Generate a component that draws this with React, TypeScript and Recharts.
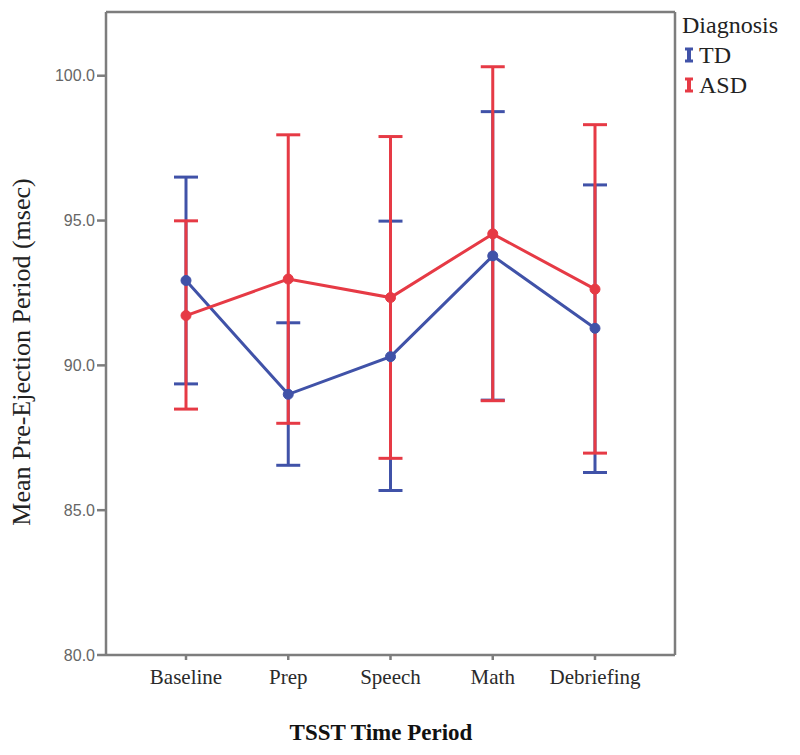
import React from "react";
import { ComposedChart, Line, XAxis, YAxis, ErrorBar, Legend } from "recharts";

const categories = ["Baseline", "Prep", "Speech", "Math", "Debriefing"];

// TD group: means and 95% CI bounds
const tdMean = [92.93, 89.0, 90.3, 93.78, 91.28];
const tdLower = [89.36, 86.55, 85.68, 88.8, 86.3];
const tdUpper = [96.5, 91.47, 94.98, 98.76, 96.23];

// ASD group
const asdMean = [91.72, 92.98, 92.34, 94.54, 92.63];
const asdLower = [88.49, 88.0, 86.79, 88.78, 86.97];
const asdUpper = [94.99, 97.96, 97.9, 100.31, 98.31];

const groups = ["TD", "ASD"];
const yTicks = [80, 85, 90, 95, 100];

const BLUE = "#4052a8";
const RED = "#e63a45";
const AXIS = "#7d7d7d";
const SERIF = "'Liberation Serif', 'Times New Roman', serif";

const data = categories.map((name, i) => ({
  name,
  td: tdMean[i],
  tdErr: [tdMean[i] - tdLower[i], tdUpper[i] - tdMean[i]],
  asd: asdMean[i],
  asdErr: [asdMean[i] - asdLower[i], asdUpper[i] - asdMean[i]],
}));

function DiagnosisLegend(props: any) {
  const payload = [...(props.payload || [])].sort(
    (a: any, b: any) => groups.indexOf(a.value) - groups.indexOf(b.value)
  );
  return (
    <div style={{ fontFamily: SERIF, color: "#222", fontSize: 24, lineHeight: "30px" }}>
      <div>Diagnosis</div>
      {payload.map((p: any) => (
        <div key={p.value} style={{ display: "flex", alignItems: "center" }}>
          <svg width={14} height={18} style={{ marginRight: 3 }}>
            <line x1={3} y1={3} x2={11} y2={3} stroke={p.color} strokeWidth={3} />
            <line x1={7} y1={3} x2={7} y2={15} stroke={p.color} strokeWidth={4} />
            <line x1={3} y1={15} x2={11} y2={15} stroke={p.color} strokeWidth={3} />
          </svg>
          <span>{p.value}</span>
        </div>
      ))}
    </div>
  );
}

export default function App() {
  return (
    <div style={{ position: "absolute", left: 0, top: 0, background: "#fff" }}>
      <ComposedChart
        width={800}
        height={755}
        data={data}
        margin={{ top: 11, right: 124, bottom: 60, left: 0 }}
      >
        <XAxis
          dataKey="name"
          padding={{ left: 80, right: 80 }}
          height={40}
          stroke={AXIS}
          strokeWidth={2.5}
          tickSize={5}
          tickMargin={9}
          tick={{ fill: "#2a2a2a", fontSize: 21, fontFamily: SERIF }}
          label={() => (
            <text
              x={381}
              y={740}
              textAnchor="middle"
              fontFamily={SERIF}
              fontWeight="bold"
              fontSize={23}
              fill="#111"
            >
              TSST Time Period
            </text>
          )}
        />
        <XAxis
          xAxisId="top"
          orientation="top"
          dataKey="name"
          padding={{ left: 80, right: 80 }}
          height={1}
          stroke={AXIS}
          strokeWidth={2.5}
          tick={false}
          tickLine={false}
        />
        <YAxis
          width={106}
          domain={[80, 102.2]}
          ticks={yTicks}
          allowDataOverflow
          stroke={AXIS}
          strokeWidth={2.5}
          tickSize={9}
          tickMargin={2}
          tickFormatter={(v) => Number(v).toFixed(1)}
          tick={{ fill: "#666", fontSize: 16, fontFamily: "'Liberation Sans', Arial, sans-serif" }}
          label={() => (
            <text
              x={21}
              y={352}
              transform="rotate(-90 21 352)"
              textAnchor="middle"
              dominantBaseline="central"
              fontFamily={SERIF}
              fontSize={26}
              fill="#222"
            >
              Mean Pre-Ejection Period (msec)
            </text>
          )}
        />
        <YAxis
          yAxisId="right"
          orientation="right"
          width={1}
          domain={[80, 102.2]}
          stroke={AXIS}
          strokeWidth={2.5}
          tick={false}
          tickLine={false}
        />
        <Legend
          layout="vertical"
          align="center"
          verticalAlign="middle"
          content={<DiagnosisLegend />}
          wrapperStyle={{ left: 682, top: 10, width: 118 }}
        />
        <Line
          dataKey="td"
          name="TD"
          stroke={BLUE}
          strokeWidth={3}
          dot={{ r: 5, fill: BLUE, stroke: BLUE, strokeWidth: 1 }}
          isAnimationActive={false}
        >
          <ErrorBar dataKey="tdErr" width={12} stroke={BLUE} strokeWidth={3} />
        </Line>
        <Line
          dataKey="asd"
          name="ASD"
          stroke={RED}
          strokeWidth={3}
          dot={{ r: 5, fill: RED, stroke: RED, strokeWidth: 1 }}
          isAnimationActive={false}
        >
          <ErrorBar dataKey="asdErr" width={12} stroke={RED} strokeWidth={3} />
        </Line>
      </ComposedChart>
    </div>
  );
}
